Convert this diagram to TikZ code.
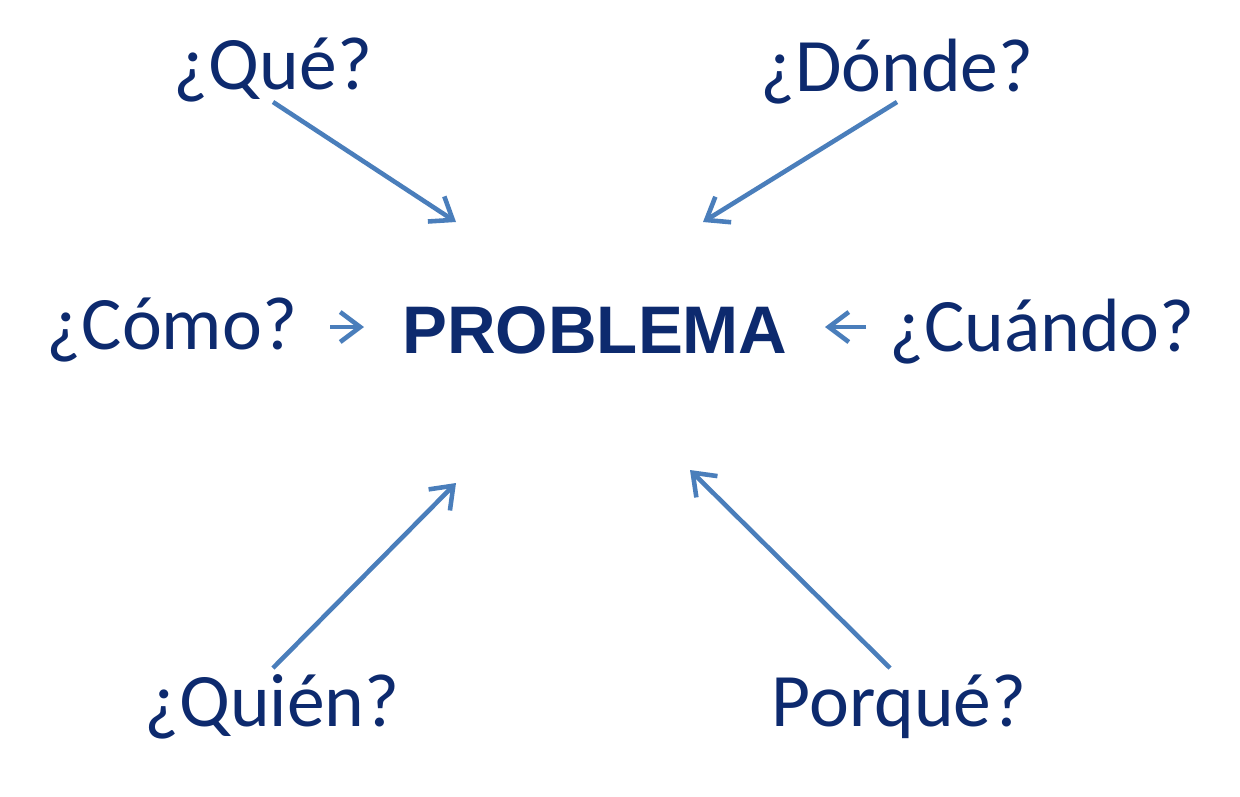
\documentclass[tikz,border=0pt]{standalone}
\usepackage{fontspec}
\setmainfont{Carlito}
\newfontfamily\probfont{Liberation Sans}
\usetikzlibrary{arrows.meta}
\definecolor{navy}{HTML}{0D2A6E}
\definecolor{steel}{HTML}{4A7EBB}
\tikzset{
  question/.style = {text=navy, font=\fontsize{43}{50}\selectfont, inner sep=0pt},
  central/.style = {text=navy, font=\probfont\bfseries\fontsize{38.3}{46}\selectfont, inner sep=0pt},
  pointer/.style = {draw=steel, line width=2.6pt, -{Straight Barb[length=4mm,width=6mm]}}
}

\begin{document}
\begin{tikzpicture}[x=0.02cm, y=-0.02cm]
    \useasboundingbox (0,0) rectangle (1240,796);
    % questions around the problem
    \node [central] (problema) at (595,330) {PROBLEMA};
    \node [question] (que) at (273,70) {¿Qué?};
    \node [question] (donde) at (897,72) {¿Dónde?};
    \node [question] (como) at (172,330) {¿Cómo?};
    \node [question] (cuando) at (1042,332) {¿Cuándo?};
    \node [question] (quien) at (272,707) {¿Quién?};
    \node [question] (porque) at (899,707) {Porqué?};
    % arrow ends
    \coordinate (que-a) at (273,102);   \coordinate (que-b) at (456,222);
    \coordinate (donde-a) at (897,102); \coordinate (donde-b) at (703,222);
    \coordinate (como-a) at (330,327);  \coordinate (como-b) at (364,327);
    \coordinate (cuando-a) at (866,327); \coordinate (cuando-b) at (825,327);
    \coordinate (quien-a) at (273,668); \coordinate (quien-b) at (456,483);
    \coordinate (porque-a) at (890,668); \coordinate (porque-b) at (690,470);
    \foreach \q in {que, donde, como, cuando, quien, porque}
        \draw [pointer] (\q-a) -- (\q-b);
\end{tikzpicture}
\end{document}
